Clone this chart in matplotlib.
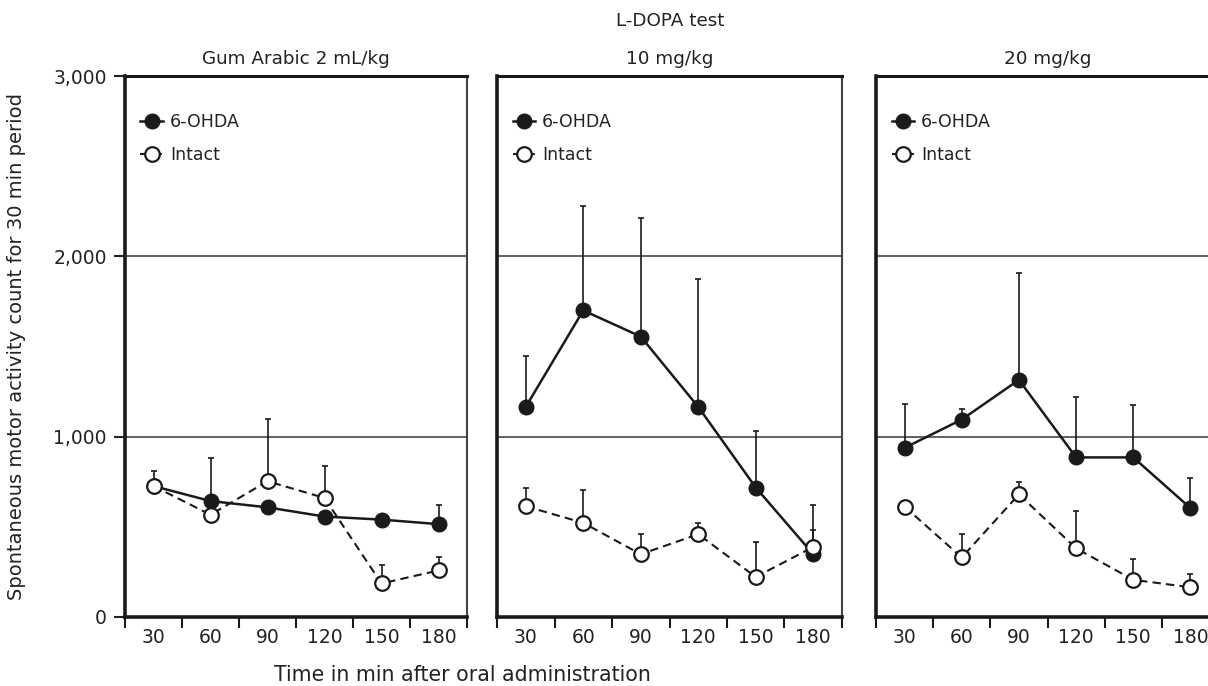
import matplotlib.pyplot as plt
import numpy as np

plt.rcParams['font.family'] = ['DejaVu Sans']

# time points (min after oral administration)
times = ['30', '60', '90', '120', '150', '180']

# panel titles
titles = ['Gum Arabic 2 mL/kg', '10 mg/kg', '20 mg/kg']

# 6-OHDA group means and upper error (SEM)
ohda_gum = [726, 643, 608, 557, 540, 515]
ohda_gum_err = [0, 239, 0, 0, 0, 104]
ohda_10 = [1165, 1700, 1555, 1165, 718, 348]
ohda_10_err = [285, 580, 655, 710, 315, 132]
ohda_20 = [938, 1095, 1315, 885, 885, 604]
ohda_20_err = [245, 60, 590, 335, 288, 167]

# intact group means and upper error (SEM)
intact_gum = [726, 567, 753, 660, 186, 258]
intact_gum_err = [84, 0, 344, 175, 103, 72]
intact_10 = [614, 522, 348, 459, 222, 388]
intact_10_err = [102, 185, 115, 65, 195, 234]
intact_20 = [612, 330, 680, 381, 206, 165]
intact_20_err = [0, 130, 68, 207, 114, 76]

ohda = [ohda_gum, ohda_10, ohda_20]
ohda_err = [ohda_gum_err, ohda_10_err, ohda_20_err]
intact = [intact_gum, intact_10, intact_20]
intact_err = [intact_gum_err, intact_10_err, intact_20_err]

W, H = 1208, 686
fig = plt.figure(figsize=(W / 100, H / 100), dpi=100)

# axes boxes in pixels: left, right
boxes = [(125, 467), (497, 842), (876, 1219)]
top_px, bot_px = 76, 617

dark = '#1a1a1a'
txt = '#222222'
x = np.arange(len(times))

for i, (l, r) in enumerate(boxes):
    ax = fig.add_axes([l / W, (H - bot_px) / H, (r - l) / W, (bot_px - top_px) / H])
    ax.set_xlim(-0.5, 5.5)
    ax.set_ylim(0, 3000)

    ax.axhline(1000, color='#555555', lw=1.3, zorder=1)
    ax.axhline(2000, color='#555555', lw=1.3, zorder=1)

    # error bars (upper only)
    ax.errorbar(x, ohda[i], yerr=[np.zeros(6), ohda_err[i]], fmt='none',
                ecolor=dark, elinewidth=1.2, capsize=2, capthick=1.2, zorder=2)
    ax.errorbar(x, intact[i], yerr=[np.zeros(6), intact_err[i]], fmt='none',
                ecolor=dark, elinewidth=1.2, capsize=2, capthick=1.2, zorder=2)

    ax.plot(x, ohda[i], '-', color=dark, lw=1.8, marker='o', ms=10.5,
            mfc=dark, mec=dark, label='6-OHDA', zorder=3)
    ax.plot(x, intact[i], '--', color=dark, lw=1.5, marker='o', ms=10.5,
            mfc='white', mec=dark, mew=1.6, dashes=(4, 2.5), label='Intact', zorder=4)

    ax.set_xticks(x)
    ax.set_xticklabels(times)
    ax.set_xticks(np.arange(-0.5, 6, 1), minor=True)
    ax.tick_params(axis='x', which='major', length=0, labelsize=13.5, pad=8, colors=txt)
    ax.tick_params(axis='x', which='minor', length=8, width=1.5, direction='out', color=dark)

    if i == 0:
        ax.set_yticks([0, 1000, 2000, 3000])
        ax.set_yticklabels(['0', '1,000', '2,000', '3,000'])
        ax.tick_params(axis='y', length=8, width=1.5, direction='out', labelsize=13.5,
                       colors=txt, pad=5)
    else:
        ax.set_yticks([])

    for side in ['left', 'bottom']:
        ax.spines[side].set_linewidth(2.6)
        ax.spines[side].set_color(dark)
    ax.spines['top'].set_linewidth(2.2)
    ax.spines['top'].set_color(dark)
    ax.spines['right'].set_linewidth(1.5)
    ax.spines['right'].set_color('#444444')

    ax.set_title(titles[i], fontsize=13.2, pad=9, color=txt)

    leg = ax.legend(loc='upper left', bbox_to_anchor=(0.025, 0.945), frameon=False,
                    handlelength=1.3, handletextpad=0.4, fontsize=12.5,
                    labelspacing=0.9, borderaxespad=0)
    for t in leg.get_texts():
        t.set_color(txt)

fig.text(670 / W, 1 - 21 / H, 'L-DOPA test', ha='center', va='center',
         fontsize=13.2, color=txt)
fig.text(462 / W, 1 - 675 / H, 'Time in min after oral administration', ha='center',
         va='center', fontsize=14.8, color=txt)
fig.text(17 / W, 1 - 347 / H, 'Spontaneous motor activity count for 30 min period',
         ha='center', va='center', rotation=90, fontsize=14, color=txt)

fig.savefig('out.png', dpi=100, facecolor='white')
